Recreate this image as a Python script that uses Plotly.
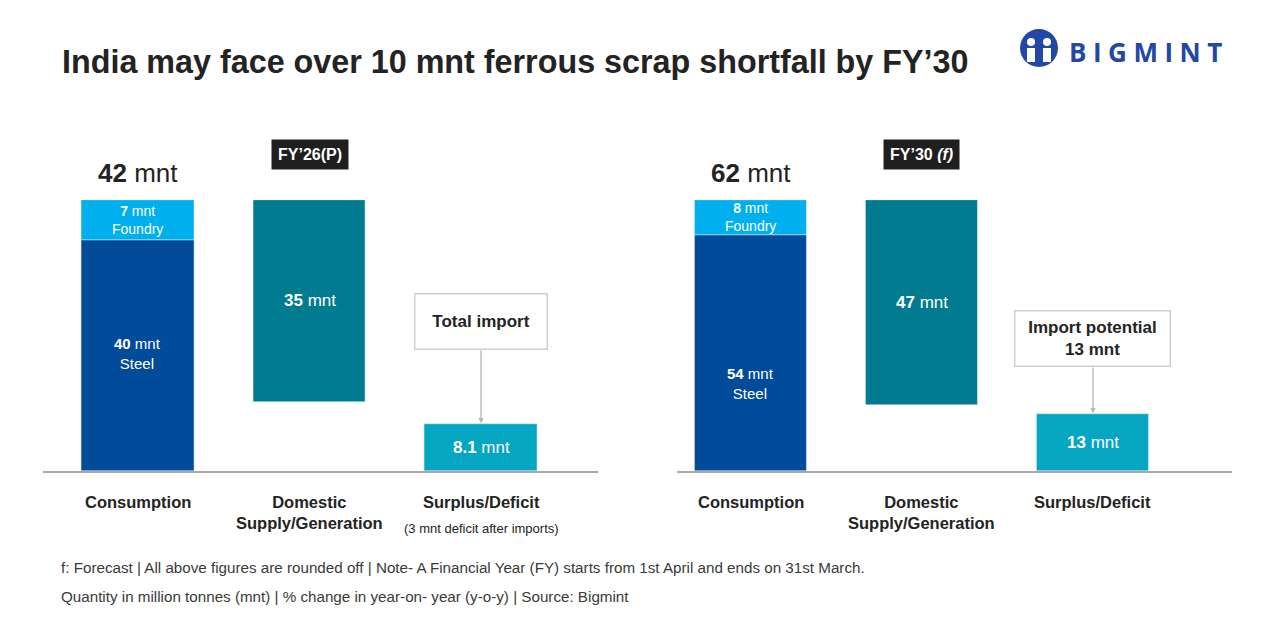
import plotly.graph_objects as go

# values in million tonnes (mnt)
periods = ["FY’26(P)", "FY’30 <i>(f)</i>"]
categories = ["Consumption", "Domestic<br>Supply/Generation", "Surplus/Deficit"]
steel = [40, 54]
foundry = [7, 8]
domestic = [35, 47]
deficit = [8.1, 13]
total_labels = [42, 62]
import_notes = ["<b>Total import</b>", "<b>Import potential<br>13 mnt</b>"]
deficit_note = "(3 mnt deficit after imports)"

STEEL_C = "#024a9a"
FOUNDRY_C = "#00b0ee"
DOMESTIC_C = "#007b8f"
DEFICIT_C = "#05a6c2"
TEXT_C = "#232323"
FONT = "Liberation Sans"

W, H = 1275, 637
Y_TOP, Y_BASE = 200, 471  # pixel rows of plot area


def py(pix):
    return 1 - pix / H


fig = go.Figure()

x_domains = [[43.3 / W, 598 / W], [676.7 / W, 1232 / W]]
x_ranges = [[-0.552, 2.682], [-0.434, 2.813]]
steel_label_pos = [0.51, 0.37]
note_box = [(321, 129), (338, 152)]  # centre pixel row, box width

for i in range(2):
    xa = "x" if i == 0 else "x2"
    ya = "y" if i == 0 else "y2"
    total = steel[i] + foundry[i]

    fig.add_trace(go.Bar(x=[0], y=[steel[i]], base=[0], marker_color=STEEL_C,
                         width=0.656, xaxis=xa, yaxis=ya, hoverinfo="skip"))
    fig.add_trace(go.Bar(x=[0], y=[foundry[i]], base=[steel[i]], marker_color=FOUNDRY_C,
                         width=0.656, xaxis=xa, yaxis=ya, hoverinfo="skip"))
    fig.add_trace(go.Bar(x=[1], y=[domestic[i]], base=[total - domestic[i]], marker_color=DOMESTIC_C,
                         width=0.656, xaxis=xa, yaxis=ya, hoverinfo="skip"))
    fig.add_trace(go.Bar(x=[2], y=[deficit[i]], base=[0], marker_color=DEFICIT_C,
                         width=0.656, xaxis=xa, yaxis=ya, hoverinfo="skip"))

    sfx = "" if i == 0 else "2"
    fig.layout["xaxis" + sfx] = dict(domain=x_domains[i], range=x_ranges[i], anchor=ya,
                                     showgrid=False, zeroline=False, showticklabels=False,
                                     showline=True, linecolor="#a8a8a8", linewidth=2)
    fig.layout["yaxis" + sfx] = dict(domain=[py(Y_BASE), py(Y_TOP)], range=[0, total], anchor=xa,
                                     showgrid=False, zeroline=False, showticklabels=False)

    mid = dict(xanchor="center", yanchor="middle", showarrow=False)
    white = dict(color="white", family=FONT)
    # bar labels
    fig.add_annotation(x=0, y=steel[i] + foundry[i] / 2, xref=xa, yref=ya, **mid,
                       text=f"<b>{foundry[i]}</b> mnt<br>Foundry", font=dict(size=14, **white))
    fig.add_annotation(x=0, y=steel[i] * steel_label_pos[i], xref=xa, yref=ya, **mid,
                       text=f"<b>{steel[i]}</b> mnt<br>Steel", font=dict(size=15, **white))
    fig.add_annotation(x=1, y=total - domestic[i] / 2, xref=xa, yref=ya, **mid,
                       text=f"<b>{domestic[i]}</b> mnt", font=dict(size=17, **white))
    fig.add_annotation(x=2, y=deficit[i] / 2, xref=xa, yref=ya, **mid,
                       text=f"<b>{deficit[i]:g}</b> mnt", font=dict(size=17, **white))

    # total above consumption
    fig.add_annotation(x=0, y=py(173), xref=xa, yref="paper", **mid,
                       text=f"<b>{total_labels[i]}</b> mnt", font=dict(size=26, color=TEXT_C, family=FONT))
    # period tag
    fig.add_annotation(x=1, y=py(154), xref=xa, yref="paper", **mid,
                       text=f"<b>{periods[i]}</b>", bgcolor="#1f1f1f", borderpad=6,
                       font=dict(size=16, color="white", family=FONT))

    # import note box + arrow down to deficit bar
    cy, bw = note_box[i]
    fig.add_annotation(x=2, y=py(cy), xref=xa, yref="paper", **mid,
                       text=import_notes[i], bgcolor="white", bordercolor="#cfcfcf", borderwidth=1.5,
                       width=bw, height=52, font=dict(size=17, color=TEXT_C, family=FONT))
    box_bottom = (Y_BASE - (cy + 28)) / (Y_BASE - Y_TOP) * total
    fig.add_annotation(x=2, y=deficit[i], xref=xa, yref=ya, ax=2, ay=box_bottom, axref=xa, ayref=ya,
                       showarrow=True, arrowhead=2, arrowsize=0.8, arrowwidth=1.3, arrowcolor="#b5b5b5",
                       text="", standoff=1)

    # category labels
    for k, cat in enumerate(categories):
        fig.add_annotation(x=k, y=py(491), xref=xa, yref="paper", showarrow=False,
                           xanchor="center", yanchor="top",
                           text=f"<b>{cat}</b>", font=dict(size=16.5, color=TEXT_C, family=FONT))

fig.add_annotation(x=2, y=py(528), xref="x", yref="paper", xanchor="center", yanchor="middle",
                   showarrow=False, text=deficit_note, font=dict(size=13, color=TEXT_C, family=FONT))

# title
fig.add_annotation(x=60 / W, y=py(62), xref="paper", yref="paper", xanchor="left", yanchor="middle",
                   showarrow=False,
                   text="<b>India may face over 10 mnt ferrous scrap shortfall by FY’30</b>",
                   font=dict(size=32.3, color=TEXT_C, family=FONT))

# footer
footer = ["f: Forecast | All above figures are rounded off | Note- A Financial Year (FY) starts from 1st April and ends on 31st March.",
          "Quantity in million tonnes (mnt) | % change in year-on- year (y-o-y) | Source: Bigmint"]
for j, line in enumerate(footer):
    fig.add_annotation(x=59 / W, y=py(567 + 29 * j), xref="paper", yref="paper", xanchor="left",
                       yanchor="middle", showarrow=False, text=line,
                       font=dict(size=15.2, color="#3a3a3a", family=FONT))

# logo
LOGO_C = "#2347a5"
fig.add_shape(type="circle", xref="paper", yref="paper", x0=1020 / W, x1=1058 / W, y0=py(67), y1=py(29),
              fillcolor=LOGO_C, line_width=0)
for cx in (1031, 1047):
    fig.add_shape(type="circle", xref="paper", yref="paper", x0=(cx - 4) / W, x1=(cx + 4) / W,
                  y0=py(46), y1=py(38), fillcolor="white", line_width=0)
    fig.add_shape(type="rect", xref="paper", yref="paper", x0=(cx - 4) / W, x1=(cx + 4) / W,
                  y0=py(62), y1=py(48), fillcolor="white", line_width=0)
fig.add_annotation(x=1067 / W, y=py(52), xref="paper", yref="paper", xanchor="left", yanchor="middle",
                   showarrow=False, text="<b>B\u2005I\u2005G\u2005M\u2005I\u2005N\u2005T</b>",
                   font=dict(size=26, color=LOGO_C, family="Open Sans"))

fig.update_layout(width=W, height=H, margin=dict(l=0, r=0, t=0, b=0),
                  plot_bgcolor="white", paper_bgcolor="white", showlegend=False,
                  barmode="overlay", bargap=0)

fig.write_html("out.html", config={"displayModeBar": False},
               post_script="document.body.style.margin='0';")
